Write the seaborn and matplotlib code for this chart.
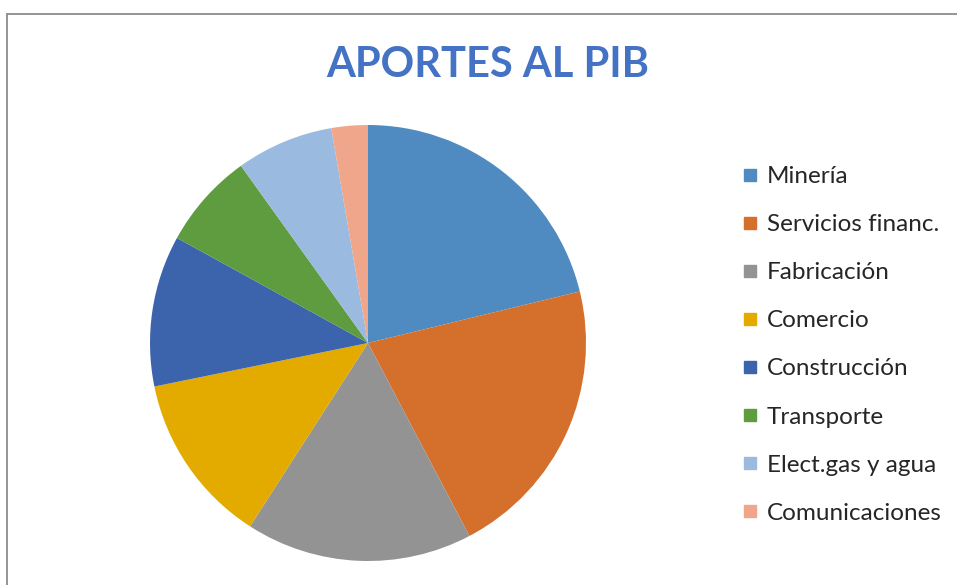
import matplotlib
matplotlib.use("Agg")
import matplotlib.pyplot as plt
import seaborn as sns
from matplotlib.lines import Line2D

sectores = ["Minería", "Servicios financ.", "Fabricación", "Comercio",
            "Construcción", "Transporte", "Elect.gas y agua", "Comunicaciones"]
aportes = [21.2, 21.1, 16.8, 12.7, 11.2, 7.1, 7.2, 2.7]
colores = ["#4F8BC0", "#D4702C", "#939393", "#E3AA00",
           "#3B64AD", "#5F9B3F", "#9ABAE0", "#F0A68A"]

sns.set_theme(style="white")
plt.rcParams['font.family'] = ['Lato', 'DejaVu Sans']
palette = sns.color_palette(colores)

fig = plt.figure(figsize=(9.57, 5.85), dpi=100)
ax = fig.add_axes([150/957, 24/585, 436/957, 436/585])
wedges, _ = ax.pie(aportes, colors=palette, startangle=90, counterclock=False,
                   wedgeprops=dict(linewidth=0))
ax.set_xlim(-1, 1)
ax.set_ylim(-1, 1)
ax.set_aspect("equal")

fig.text(487.5/957, 1 - 65/585, "APORTES AL PIB", ha="center", va="center",
         fontsize=30, fontweight="bold", color="#4472C4")

handles = [Line2D([], [], marker="s", linestyle="", markersize=9,
                  markerfacecolor=c, markeredgecolor=c) for c in palette]
fig.legend(handles, sectores, loc="upper left", bbox_to_anchor=(741/957, 1 - 166/585),
           frameon=False, fontsize=17.5, labelspacing=1.115, handlelength=0.7,
           handletextpad=0.35, borderaxespad=0, borderpad=0, labelcolor="#262626")

# marco del gráfico (recortado)
fig.add_artist(Line2D([6.5/957, 6.5/957], [0, 1 - 13.5/585], color="#8C8C8C", lw=1.3))
fig.add_artist(Line2D([6.5/957, 1], [1 - 13.5/585, 1 - 13.5/585], color="#8C8C8C", lw=1.3))

fig.savefig("out.png", dpi=100)
